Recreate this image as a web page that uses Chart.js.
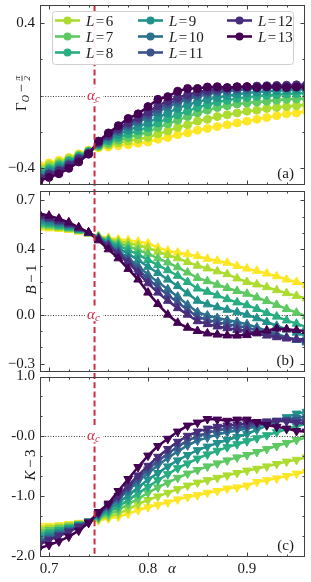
<!DOCTYPE html>
<html>
<head>
<meta charset="utf-8">
<script src="https://cdn.jsdelivr.net/npm/chart.js@4.4.1/dist/chart.umd.min.js"></script>
<style>
html,body{margin:0;padding:0;background:#ffffff;}
#wrap{position:relative;width:311px;height:582px;overflow:hidden;background:#fff;}
#wrap canvas{position:absolute;left:0;top:0;}
</style>
</head>
<body>
<div id="wrap">
<canvas id="pa" width="311" height="582"></canvas>
<canvas id="pb" width="311" height="582"></canvas>
<canvas id="pc" width="311" height="582"></canvas>
</div>
<script>
// ---------------- data ----------------
const alpha = [0.69,0.70,0.71,0.72,0.73,0.74,0.75,0.76,0.77,0.78,0.79,0.80,0.81,0.82,0.83,0.84,0.85,0.86,0.87,0.88,0.89,0.90,0.91,0.92,0.93,0.94,0.95,0.96];
const systemSizes = [5,6,7,8,9,10,11,12,13];
const legendSizes = [6,7,8,9,10,11,12,13];
const alphaC = 0.746;

// panel (a): Gamma_O - pi/2
const gammaL5  = [-0.380,-0.370,-0.355,-0.340,-0.320,-0.300,-0.288,-0.283,-0.275,-0.270,-0.262,-0.255,-0.240,-0.230,-0.215,-0.205,-0.190,-0.180,-0.170,-0.160,-0.150,-0.140,-0.130,-0.120,-0.110,-0.100,-0.095,-0.085];
const gammaL6  = [-0.395,-0.380,-0.365,-0.345,-0.325,-0.303,-0.283,-0.272,-0.260,-0.250,-0.240,-0.230,-0.210,-0.195,-0.175,-0.160,-0.140,-0.130,-0.115,-0.105,-0.095,-0.085,-0.080,-0.070,-0.065,-0.060,-0.055,-0.050];
const gammaL7  = [-0.410,-0.395,-0.375,-0.355,-0.330,-0.306,-0.278,-0.262,-0.245,-0.230,-0.215,-0.200,-0.175,-0.155,-0.135,-0.115,-0.095,-0.080,-0.065,-0.055,-0.045,-0.040,-0.035,-0.030,-0.025,-0.020,-0.018,-0.015];
const gammaL8  = [-0.420,-0.405,-0.385,-0.360,-0.335,-0.309,-0.273,-0.250,-0.230,-0.210,-0.193,-0.175,-0.150,-0.125,-0.105,-0.085,-0.065,-0.050,-0.035,-0.025,-0.015,-0.010,-0.003,0.002,0.006,0.010,0.012,0.015];
const gammaL9  = [-0.430,-0.415,-0.395,-0.370,-0.340,-0.312,-0.268,-0.240,-0.213,-0.190,-0.170,-0.150,-0.120,-0.095,-0.070,-0.050,-0.035,-0.020,-0.010,0.000,0.008,0.015,0.020,0.025,0.028,0.030,0.033,0.035];
const gammaL10 = [-0.445,-0.425,-0.405,-0.375,-0.345,-0.315,-0.263,-0.228,-0.198,-0.170,-0.145,-0.120,-0.090,-0.060,-0.040,-0.020,-0.005,0.008,0.018,0.025,0.030,0.035,0.040,0.042,0.045,0.047,0.048,0.050];
const gammaL11 = [-0.450,-0.430,-0.410,-0.380,-0.348,-0.317,-0.260,-0.223,-0.189,-0.159,-0.132,-0.105,-0.072,-0.045,-0.025,-0.008,0.008,0.019,0.028,0.034,0.039,0.043,0.047,0.049,0.051,0.053,0.054,0.055];
const gammaL12 = [-0.455,-0.435,-0.415,-0.385,-0.350,-0.318,-0.258,-0.218,-0.180,-0.148,-0.120,-0.090,-0.055,-0.030,-0.010,0.005,0.020,0.030,0.038,0.043,0.047,0.050,0.053,0.055,0.057,0.058,0.060,0.060];
const gammaL13 = [-0.470,-0.450,-0.430,-0.400,-0.365,-0.322,-0.250,-0.205,-0.165,-0.125,-0.100,-0.060,-0.020,-0.005,0.025,0.040,0.040,0.048,0.050,0.045,0.050,0.050,0.045,0.050,0.048,0.045,0.048,0.045];

// panel (b): B - 1
const bL5  = [0.530,0.528,0.524,0.518,0.508,0.496,0.482,0.470,0.462,0.455,0.447,0.437,0.410,0.392,0.380,0.370,0.358,0.342,0.330,0.318,0.298,0.282,0.268,0.252,0.235,0.215,0.200,0.180];
const bL6  = [0.540,0.536,0.530,0.523,0.511,0.497,0.479,0.465,0.450,0.438,0.425,0.410,0.385,0.365,0.345,0.322,0.300,0.283,0.265,0.248,0.222,0.200,0.185,0.168,0.150,0.132,0.115,0.100];
const bL7  = [0.550,0.545,0.537,0.527,0.514,0.498,0.476,0.458,0.437,0.418,0.397,0.373,0.345,0.320,0.290,0.258,0.225,0.205,0.183,0.163,0.145,0.128,0.105,0.083,0.060,0.035,0.012,-0.010];
const bL8  = [0.560,0.554,0.545,0.533,0.518,0.499,0.473,0.450,0.423,0.397,0.368,0.335,0.303,0.272,0.238,0.200,0.160,0.140,0.118,0.095,0.075,0.058,0.035,0.010,-0.012,-0.035,-0.055,-0.075];
const bL9  = [0.575,0.565,0.554,0.540,0.522,0.500,0.470,0.440,0.408,0.372,0.335,0.293,0.255,0.215,0.175,0.130,0.085,0.063,0.045,0.030,0.015,0.000,-0.022,-0.045,-0.068,-0.090,-0.110,-0.130];
const bL10 = [0.590,0.578,0.563,0.547,0.526,0.501,0.467,0.430,0.390,0.345,0.298,0.245,0.200,0.155,0.110,0.060,0.015,-0.005,-0.020,-0.033,-0.045,-0.058,-0.078,-0.098,-0.118,-0.138,-0.155,-0.170];
const bL11 = [0.598,0.585,0.569,0.551,0.528,0.502,0.465,0.425,0.380,0.332,0.278,0.218,0.168,0.120,0.075,0.030,-0.013,-0.032,-0.046,-0.058,-0.069,-0.079,-0.097,-0.113,-0.128,-0.142,-0.153,-0.162];
const bL12 = [0.605,0.592,0.575,0.555,0.530,0.502,0.463,0.420,0.370,0.318,0.258,0.192,0.135,0.085,0.040,0.000,-0.040,-0.058,-0.072,-0.083,-0.093,-0.100,-0.115,-0.128,-0.138,-0.146,-0.150,-0.150];
const bL13 = [0.620,0.606,0.588,0.565,0.535,0.503,0.455,0.400,0.345,0.280,0.215,0.135,0.065,0.000,-0.050,-0.080,-0.100,-0.115,-0.122,-0.127,-0.128,-0.125,-0.110,-0.097,-0.085,-0.090,-0.095,-0.100];

// panel (c): K - 3
const kL5  = [-1.50,-1.50,-1.49,-1.47,-1.45,-1.43,-1.41,-1.38,-1.35,-1.30,-1.24,-1.19,-1.15,-1.11,-1.06,-1.02,-0.99,-0.95,-0.92,-0.88,-0.86,-0.83,-0.77,-0.74,-0.71,-0.67,-0.63,-0.60];
const kL6  = [-1.55,-1.53,-1.51,-1.49,-1.46,-1.43,-1.39,-1.35,-1.30,-1.22,-1.14,-1.07,-1.01,-0.95,-0.89,-0.83,-0.78,-0.74,-0.70,-0.66,-0.62,-0.58,-0.55,-0.51,-0.47,-0.43,-0.40,-0.36];
const kL7  = [-1.60,-1.57,-1.54,-1.51,-1.47,-1.43,-1.37,-1.31,-1.24,-1.14,-1.05,-0.95,-0.86,-0.78,-0.70,-0.63,-0.57,-0.51,-0.46,-0.41,-0.36,-0.32,-0.27,-0.22,-0.17,-0.12,-0.07,-0.03];
const kL8  = [-1.65,-1.61,-1.57,-1.53,-1.48,-1.43,-1.35,-1.27,-1.18,-1.07,-0.96,-0.85,-0.74,-0.64,-0.54,-0.46,-0.38,-0.31,-0.25,-0.19,-0.14,-0.09,-0.04,0.01,0.06,0.11,0.16,0.20];
const kL9  = [-1.70,-1.65,-1.60,-1.55,-1.49,-1.43,-1.33,-1.23,-1.12,-0.99,-0.86,-0.73,-0.62,-0.51,-0.41,-0.32,-0.24,-0.18,-0.12,-0.07,-0.02,0.03,0.10,0.17,0.24,0.31,0.37,0.40];
const kL10 = [-1.75,-1.69,-1.63,-1.57,-1.50,-1.43,-1.31,-1.19,-1.06,-0.91,-0.76,-0.62,-0.49,-0.37,-0.26,-0.16,-0.08,-0.03,0.02,0.06,0.09,0.12,0.16,0.20,0.24,0.27,0.30,0.32];
const kL11 = [-1.78,-1.72,-1.65,-1.59,-1.51,-1.44,-1.30,-1.17,-1.03,-0.87,-0.71,-0.56,-0.42,-0.30,-0.18,-0.08,-0.01,0.05,0.09,0.12,0.14,0.16,0.19,0.22,0.25,0.26,0.26,0.26];
const kL12 = [-1.81,-1.74,-1.67,-1.60,-1.52,-1.44,-1.29,-1.15,-1.00,-0.83,-0.66,-0.50,-0.35,-0.22,-0.10,0.00,0.07,0.12,0.15,0.17,0.19,0.20,0.22,0.24,0.25,0.24,0.22,0.20];
const kL13 = [-1.88,-1.82,-1.76,-1.68,-1.58,-1.45,-1.27,-1.13,-0.92,-0.72,-0.52,-0.33,-0.17,-0.05,0.07,0.17,0.22,0.28,0.27,0.25,0.27,0.27,0.23,0.18,0.15,0.12,0.08,0.07];

// ticks
const xTickValues = [0.70,0.72,0.74,0.76,0.78,0.80,0.82,0.84,0.86,0.88,0.90,0.92,0.94];
const xTickLabels = ['0.7','','','','','0.8','','','','','0.9','',''];
const gammaTickValues = [-0.4,-0.2,0.0,0.2,0.4];
const gammaTickLabels = ['\u22120.4','','','','0.4'];
const bTickValues = [-0.3,-0.2,-0.1,0.0,0.1,0.2,0.3,0.4,0.5,0.6,0.7];
const bTickLabels = ['\u22120.3','','','0.0','','','','0.4','','','0.7'];
const kTickValues = [-2.0,-1.667,-1.333,-1.0,-0.667,-0.333,0.0,0.333,0.667,1.0];
const kTickLabels = ['-2.0','','','-1.0','','','-0.0','','','1.0'];

const gammaSeries = [gammaL5,gammaL6,gammaL7,gammaL8,gammaL9,gammaL10,gammaL11,gammaL12,gammaL13];
const bSeries = [bL5,bL6,bL7,bL8,bL9,bL10,bL11,bL12,bL13];
const kSeries = [kL5,kL6,kL7,kL8,kL9,kL10,kL11,kL12,kL13];

// ---------------- styling ----------------
const colors = ['#fde725','#addc30','#5ec962','#28ae80','#21918c','#2c728e','#3b528b','#472d7b','#440154'];
const SERIF = '"Liberation Serif","DejaVu Serif",serif';
const RED = '#d22a42';
const INK = '#1a1a1a';
const FRAME = '#404040';

function mathTitle(ctx, cx, cy, parts) {
  ctx.save();
  ctx.translate(cx, cy);
  ctx.rotate(-Math.PI / 2);
  const widths = parts.map(p => {
    ctx.font = p.f;
    if (p.frac) return Math.max(ctx.measureText(p.frac[0]).width, ctx.measureText(p.frac[1]).width) + 2;
    return ctx.measureText(p.t).width + (p.gap || 0) * 2;
  });
  const total = widths.reduce((a, b) => a + b, 0);
  let x = -total / 2;
  ctx.fillStyle = INK;
  ctx.textBaseline = 'alphabetic';
  parts.forEach((p, i) => {
    const w = widths[i];
    ctx.font = p.f;
    if (p.frac) {
      const axis = 1;
      ctx.textAlign = 'center';
      ctx.fillText(p.frac[0], x + w / 2, axis - 1.8);
      ctx.fillText(p.frac[1], x + w / 2, axis + 7.8);
      ctx.fillRect(x + 0.5, axis - 0.4, w - 1, 0.8);
    } else {
      ctx.textAlign = 'left';
      ctx.fillText(p.t, x + (p.gap || 0), 5 + (p.dy || 0));
    }
    x += w;
  });
  ctx.restore();
}

function drawLegend(ctx) {
  const bx = 52.5, by = 11.5, bw = 241, bh = 53, r = 3;
  ctx.save();
  ctx.beginPath();
  ctx.moveTo(bx + r, by);
  ctx.arcTo(bx + bw, by, bx + bw, by + bh, r);
  ctx.arcTo(bx + bw, by + bh, bx, by + bh, r);
  ctx.arcTo(bx, by + bh, bx, by, r);
  ctx.arcTo(bx, by, bx + bw, by, r);
  ctx.closePath();
  ctx.fillStyle = 'rgba(255,255,255,0.92)';
  ctx.fill();
  ctx.strokeStyle = '#cfcfcf';
  ctx.lineWidth = 1;
  ctx.stroke();
  const colX = [55, 138, 227];
  const rowY = [20.5, 36.5, 52.5];
  legendSizes.forEach((L, k) => {
    const col = Math.floor(k / 3), row = k % 3;
    const x0 = colX[col], y = rowY[row];
    const c = colors[systemSizes.indexOf(L)];
    ctx.strokeStyle = c; ctx.lineWidth = 2.6;
    ctx.beginPath(); ctx.moveTo(x0, y); ctx.lineTo(x0 + 25, y); ctx.stroke();
    ctx.fillStyle = c;
    ctx.beginPath(); ctx.arc(x0 + 12.5, y, 4, 0, Math.PI * 2); ctx.fill();
    ctx.fillStyle = INK;
    ctx.textAlign = 'left'; ctx.textBaseline = 'alphabetic';
    let tx = x0 + 31;
    ctx.font = 'italic 15px ' + SERIF;
    ctx.fillText('L', tx, y + 5);
    tx += ctx.measureText('L').width + 1.5;
    ctx.font = '15px ' + SERIF;
    ctx.fillText('=', tx, y + 5);
    tx += ctx.measureText('=').width + 1.5;
    ctx.fillText(String(L), tx, y + 5);
  });
  ctx.restore();
}

const decoPlugin = {
  id: 'deco',
  beforeDatasetsDraw(chart, args, o) {
    const { ctx, chartArea: { left, right } } = chart;
    const y0 = Math.round(chart.scales.y.getPixelForValue(0)) + 0.5;
    ctx.save();
    ctx.strokeStyle = '#222';
    ctx.lineWidth = 0.9;
    ctx.setLineDash([1, 1.6]);
    ctx.beginPath(); ctx.moveTo(left, y0); ctx.lineTo(right, y0); ctx.stroke();
    ctx.restore();
  },
  afterDraw(chart, args, o) {
    const { ctx, chartArea: { left, right, top, bottom } } = chart;
    const xs = chart.scales.x, ys = chart.scales.y;
    const xc = xs.getPixelForValue(alphaC);
    const y0 = ys.getPixelForValue(0);
    // critical alpha dashed line (continuous across panels)
    ctx.save();
    ctx.beginPath(); ctx.rect(0, o.band[0], 311, o.band[1] - o.band[0]); ctx.clip();
    ctx.strokeStyle = RED; ctx.lineWidth = 2;
    ctx.setLineDash([6, 3.2]);
    ctx.beginPath(); ctx.moveTo(xc, 5); ctx.lineTo(xc, 557); ctx.stroke();
    ctx.restore();
    // alpha_c label
    ctx.save();
    ctx.fillStyle = '#fff';
    ctx.fillRect(xc - 9.5, y0 - 8, 18, 14.5);
    ctx.fillStyle = RED;
    ctx.textAlign = 'left'; ctx.textBaseline = 'alphabetic';
    ctx.font = 'italic 15px ' + SERIF;
    const wa = ctx.measureText('\u03b1').width;
    ctx.fillText('\u03b1', xc - 7.5, y0 + 4.5);
    ctx.font = 'italic 11px ' + SERIF;
    ctx.fillText('c', xc - 7.5 + wa, y0 + 6.5);
    ctx.restore();
    // frame with inward ticks
    ctx.save();
    ctx.strokeStyle = FRAME; ctx.lineWidth = 1;
    ctx.strokeRect(left + 0.5, top + 0.5, right - left - 1, bottom - top - 1);
    ctx.beginPath();
    xs.ticks.forEach((t, i) => {
      const px = Math.round(xs.getPixelForValue(t.value)) + 0.5;
      if (px < left || px > right) return;
      const len = xTickLabels[i] ? 4.5 : 2.5;
      ctx.moveTo(px, top); ctx.lineTo(px, top + len);
      ctx.moveTo(px, bottom); ctx.lineTo(px, bottom - len);
    });
    ys.ticks.forEach((t, i) => {
      const py = Math.round(ys.getPixelForValue(t.value)) + 0.5;
      if (py < top || py > bottom) return;
      const len = o.yLabels[i] ? 4.5 : 2.5;
      ctx.moveTo(left, py); ctx.lineTo(left + len, py);
      ctx.moveTo(right, py); ctx.lineTo(right - len, py);
    });
    ctx.stroke();
    ctx.restore();
    // panel letter
    ctx.save();
    ctx.fillStyle = INK; ctx.font = '15px ' + SERIF;
    ctx.textAlign = 'right'; ctx.textBaseline = 'alphabetic';
    ctx.fillText(o.letter, right - 11, bottom - 7);
    ctx.restore();
    // y title
    mathTitle(ctx, o.titleX, (top + bottom) / 2 - 2, o.title);
    if (o.legend) drawLegend(ctx);
    if (o.xTitle) {
      ctx.save();
      ctx.fillStyle = INK; ctx.font = 'italic 15px ' + SERIF;
      ctx.textAlign = 'left'; ctx.textBaseline = 'alphabetic';
      ctx.fillText('\u03b1', 168, 573);
      ctx.restore();
    }
  }
};

function makePanel(id, cfg) {
  const datasets = cfg.series.map((arr, k) => ({
    label: 'L=' + systemSizes[k],
    data: alpha.map((x, i) => ({ x: x, y: arr[i] })),
    borderColor: colors[k],
    backgroundColor: colors[k],
    pointBackgroundColor: colors[k],
    pointBorderColor: colors[k],
    borderWidth: 2.5,
    pointRadius: cfg.r,
    pointHoverRadius: cfg.r,
    pointStyle: cfg.style,
    pointRotation: cfg.rot,
    pointBorderWidth: 1,
    tension: 0,
    clip: 0,
    order: 13 - systemSizes[k]
  }));
  return new Chart(document.getElementById(id), {
    type: 'line',
    data: { datasets },
    options: {
      responsive: false,
      animation: false,
      events: [],
      layout: { padding: { top: cfg.padTop, bottom: cfg.padBottom, left: 0, right: 6 } },
      plugins: {
        legend: { display: false },
        tooltip: { enabled: false },
        deco: cfg.deco
      },
      scales: {
        x: {
          type: 'linear', min: 0.6909, max: 0.9586,
          display: cfg.showX,
          grid: { display: false, drawTicks: false },
          border: { display: false },
          afterBuildTicks: s => { s.ticks = xTickValues.map(v => ({ value: v })); },
          afterFit: s => { s.height = cfg.showX ? 25 : 0; s.paddingLeft = 0; s.paddingRight = 0; },
          ticks: {
            autoSkip: false, maxRotation: 0, minRotation: 0, padding: 3,
            color: INK, font: { family: SERIF, size: 15 },
            callback: (v, i) => xTickLabels[i]
          }
        },
        y: {
          type: 'linear', min: cfg.yMin, max: cfg.yMax,
          grid: { display: false, drawTicks: false },
          border: { display: false },
          afterBuildTicks: s => { s.ticks = cfg.yTicks.map(v => ({ value: v })); },
          afterFit: s => { s.width = 40; s.paddingTop = 0; s.paddingBottom = 0; },
          ticks: {
            autoSkip: false, padding: 5,
            color: INK, font: { family: SERIF, size: 15 },
            callback: (v, i) => cfg.yLabels[i]
          }
        }
      }
    },
    plugins: [decoPlugin]
  });
}

const F15 = '15px ' + SERIF, I15 = 'italic 15px ' + SERIF;

makePanel('pa', {
  series: gammaSeries, r: 4, style: 'circle', rot: 0,
  padTop: 5, padBottom: 397, showX: false,
  yMin: -0.492, yMax: 0.5, yTicks: gammaTickValues, yLabels: gammaTickLabels,
  deco: { band: [0, 188], letter: '(a)', yLabels: gammaTickLabels, legend: true, titleX: 21,
    title: [ { t: '\u0393', f: F15 }, { t: 'O', f: 'italic 10px ' + SERIF, dy: 3 }, { t: '\u2212', f: F15, gap: 2.5 }, { frac: ['\u03c0', '2'], f: 'italic 9px ' + SERIF } ] }
});
makePanel('pb', {
  series: bSeries, r: 5, style: 'triangle', rot: 0,
  padTop: 191, padBottom: 210, showX: false,
  yMin: -0.351, yMax: 0.757, yTicks: bTickValues, yLabels: bTickLabels,
  deco: { band: [188, 375], letter: '(b)', yLabels: bTickLabels, legend: false, titleX: 31,
    title: [ { t: 'B', f: I15 }, { t: '\u2212', f: F15, gap: 2.5 }, { t: '1', f: F15 } ] }
});
makePanel('pc', {
  series: kSeries, r: 5, style: 'triangle', rot: 180,
  padTop: 377, padBottom: 0, showX: true,
  yMin: -2.02, yMax: 0.98, yTicks: kTickValues, yLabels: kTickLabels,
  deco: { band: [375, 557], letter: '(c)', yLabels: kTickLabels, legend: false, titleX: 30, xTitle: true,
    title: [ { t: 'K', f: I15 }, { t: '\u2212', f: F15, gap: 2.5 }, { t: '3', f: F15 } ] }
});
</script>
</body>
</html>
